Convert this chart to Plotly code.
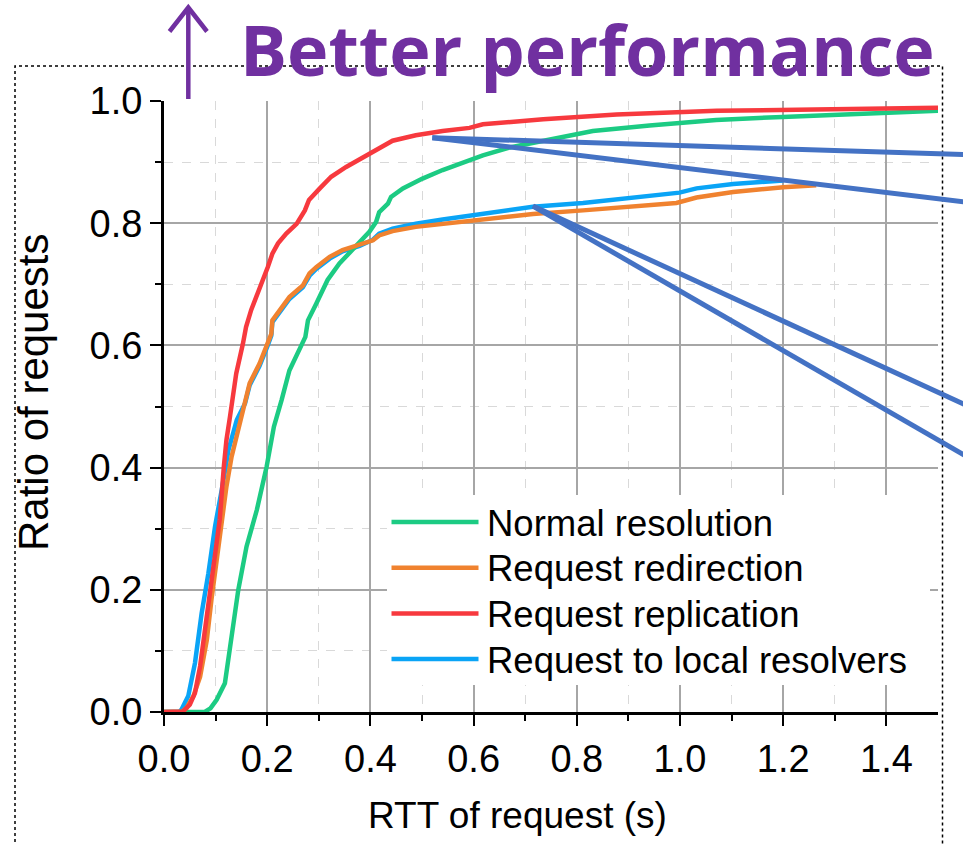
import plotly.graph_objects as go

# ---------------- data ----------------
series_names = ["Normal resolution", "Request redirection",
                "Request replication", "Request to local resolvers"]

normal_x = [0, 0.079, 0.09, 0.102, 0.118, 0.128, 0.144, 0.16, 0.18, 0.199, 0.209,
            0.213, 0.228, 0.243, 0.274, 0.279, 0.295, 0.308, 0.317, 0.34, 0.366,
            0.398, 0.411, 0.417, 0.434, 0.44, 0.463, 0.501, 0.54, 0.592, 0.618,
            0.670, 0.747, 0.831, 0.941, 1.07, 1.199, 1.329, 1.5]
normal_y = [0, 0, 0.006, 0.02, 0.047, 0.102, 0.2, 0.271, 0.331, 0.402, 0.456,
            0.467, 0.511, 0.559, 0.614, 0.641, 0.668, 0.690, 0.707, 0.734, 0.758,
            0.786, 0.802, 0.818, 0.832, 0.843, 0.857, 0.873, 0.887, 0.903, 0.911,
            0.924, 0.937, 0.951, 0.960, 0.969, 0.974, 0.978, 0.984]

redirect_x = [0, 0.035, 0.044, 0.057, 0.07, 0.083, 0.092, 0.102, 0.112, 0.121,
              0.131, 0.144, 0.157, 0.166, 0.185, 0.201, 0.208, 0.21, 0.224, 0.243,
              0.269, 0.275, 0.282, 0.295, 0.321, 0.346, 0.379, 0.405, 0.417, 0.443,
              0.488, 0.54, 0.592, 0.618, 0.715, 0.812, 0.909, 0.993, 1.032, 1.103,
              1.2, 1.264]
redirect_y = [0, 0, 0.007, 0.026, 0.058, 0.118, 0.184, 0.249, 0.304, 0.369,
              0.418, 0.462, 0.5, 0.538, 0.570, 0.603, 0.619, 0.641, 0.658, 0.679,
              0.698, 0.707, 0.718, 0.728, 0.745, 0.756, 0.764, 0.772, 0.78, 0.787,
              0.794, 0.799, 0.804, 0.806, 0.815, 0.821, 0.827, 0.833, 0.842, 0.851,
              0.859, 0.862]

replica_x = [0, 0.037, 0.05, 0.06, 0.07, 0.083, 0.096, 0.108, 0.116, 0.121, 0.128,
             0.133, 0.14, 0.153, 0.159, 0.169, 0.179, 0.192, 0.201, 0.21, 0.221,
             0.237, 0.257, 0.273, 0.281, 0.302, 0.324, 0.353, 0.385, 0.417, 0.443,
             0.488, 0.54, 0.592, 0.618, 0.735, 0.877, 1.071, 1.264, 1.5]
replica_y = [0, 0.001, 0.012, 0.031, 0.075, 0.156, 0.233, 0.315, 0.402, 0.445, 0.484,
             0.511, 0.554, 0.603, 0.630, 0.658, 0.679, 0.707, 0.728, 0.75, 0.767,
             0.783, 0.799, 0.821, 0.838, 0.857, 0.876, 0.892, 0.908, 0.922, 0.935,
             0.944, 0.951, 0.956, 0.962, 0.970, 0.978, 0.984, 0.987, 0.989]

local_x = [0, 0.03, 0.034, 0.047, 0.06, 0.073, 0.086, 0.099, 0.112, 0.125, 0.141,
           0.157, 0.166, 0.185, 0.201, 0.208, 0.21, 0.224, 0.243, 0.269, 0.282,
           0.295, 0.321, 0.346, 0.379, 0.405, 0.417, 0.443, 0.488, 0.54, 0.592,
           0.618, 0.715, 0.812, 0.909, 0.999, 1.032, 1.103, 1.2]
local_y = [0, 0, 0.004, 0.026, 0.08, 0.162, 0.227, 0.304, 0.364, 0.429, 0.478,
           0.505, 0.535, 0.566, 0.600, 0.616, 0.638, 0.655, 0.676, 0.695, 0.714,
           0.725, 0.742, 0.754, 0.763, 0.773, 0.783, 0.791, 0.799, 0.806, 0.812,
           0.816, 0.827, 0.833, 0.841, 0.850, 0.857, 0.864, 0.870]

series_colors = ["#1ccb83", "#f0822f", "#f7393e", "#0aa4f6"]

# tick positions
x_major = [0.0, 0.2, 0.4, 0.6, 0.8, 1.0, 1.2, 1.4]
x_minor = [0.1, 0.3, 0.5, 0.7, 0.9, 1.1, 1.3]
y_major = [0.0, 0.2, 0.4, 0.6, 0.8, 1.0]
y_major_grid = [0.2, 0.4, 0.6, 0.8]
y_minor = [0.1, 0.3, 0.5, 0.7, 0.9]

# callout lines (data units; they run off the right side of the plot)
callout_start = [(0.52, 0.940), (0.52, 0.940), (0.715, 0.828), (0.715, 0.828)]
callout_end = [(1.56, 0.912), (1.56, 0.834), (1.56, 0.5), (1.56, 0.416)]

x_title = "RTT of request (s)"
y_title = "Ratio of requests"
banner = "Better performance"

# ---------------- layout geometry ----------------
W, H = 963, 844
ML, MR, MT, MB = 164, 25, 101, 132
X_RANGE = [0, 1.5]
Y_RANGE = [0, 1.0]
PW, PH = W - ML - MR, H - MT - MB


def pxx(x):
    return (x - ML) / PW


def pxy(y):
    return (H - MB - y) / PH


def dx(x):
    return (x - X_RANGE[0]) / (X_RANGE[1] - X_RANGE[0])


def dy(y):
    return (y - Y_RANGE[0]) / (Y_RANGE[1] - Y_RANGE[0])


FONT = "Liberation Sans, Arial, sans-serif"
PURPLE = "#7030a0"
CALLOUT = "#4472c4"
GRID_MAJOR = "#a6a6a6"
GRID_MINOR = "#d9d9d9"

fig = go.Figure()
draw_order = [3, 0, 1, 2]
data = [(normal_x, normal_y), (redirect_x, redirect_y),
        (replica_x, replica_y), (local_x, local_y)]
for i in draw_order:
    xs, ys = data[i]
    fig.add_trace(go.Scatter(x=xs, y=ys, mode="lines", name=series_names[i],
                             line=dict(color=series_colors[i], width=4.5),
                             yaxis="y2" if i == 2 else "y",
                             showlegend=False, hoverinfo="skip"))

tickfont = dict(family=FONT, size=38, color="black")
common = dict(showline=True, linecolor="black", linewidth=3, mirror=False,
              ticks="outside", ticklen=11, tickwidth=2, tickcolor="black",
              zeroline=False, tickfont=tickfont, tickformat=".1f",
              tickmode="array")

fig.update_layout(
    width=W, height=H,
    margin=dict(l=ML, r=MR, t=MT, b=MB, pad=0),
    paper_bgcolor="white", plot_bgcolor="white",
    xaxis=dict(range=X_RANGE, tickvals=x_major, showgrid=True,
               gridcolor=GRID_MAJOR, gridwidth=1.5,
               minor=dict(tickmode="array", tickvals=x_minor, ticks="outside",
                          ticklen=6, tickwidth=2, tickcolor="black",
                          showgrid=True, gridcolor=GRID_MINOR,
                          griddash="dash", gridwidth=1),
               **common),
    yaxis=dict(range=Y_RANGE, tickvals=y_major, showgrid=False,
               minor=dict(tickmode="array", tickvals=y_minor, ticks="outside",
                          ticklen=6, tickwidth=2, tickcolor="black",
                          showgrid=True, gridcolor=GRID_MINOR,
                          griddash="dash", gridwidth=1),
               **common),
    yaxis2=dict(range=Y_RANGE, overlaying="y", side="left", anchor="x",
                tickmode="array", tickvals=y_major_grid, showgrid=True,
                gridcolor=GRID_MAJOR, gridwidth=1.5, showticklabels=False,
                ticks="", showline=False, zeroline=False),
    showlegend=False,
)

shapes = []
# dotted frame
shapes.append(dict(type="rect", xref="paper", yref="paper",
                   x0=pxx(15), x1=pxx(942.5), y0=pxy(870), y1=pxy(66),
                   line=dict(color="black", width=1.5, dash="dot"),
                   layer="above"))
# legend box (white, hides the grid)
shapes.append(dict(type="rect", xref="paper", yref="paper",
                   x0=pxx(387), x1=pxx(930), y0=pxy(685), y1=pxy(495),
                   line=dict(width=0), fillcolor="white", layer="above"))
# callout lines
for (sx, sy), (ex, ey) in zip(callout_start, callout_end):
    shapes.append(dict(type="line", xref="paper", yref="paper",
                       x0=dx(sx), y0=dy(sy), x1=dx(ex), y1=dy(ey),
                       line=dict(color=CALLOUT, width=5), layer="above"))
# up arrow
shapes.append(dict(type="line", xref="paper", yref="paper",
                   x0=pxx(188.3), x1=pxx(188.3), y0=pxy(99), y1=pxy(9),
                   line=dict(color=PURPLE, width=4.5), layer="above"))
shapes.append(dict(type="path", xref="paper", yref="paper",
                   path="M {a},{b} L {c},{d} L {e},{f}".format(
                       a=pxx(169.5), b=pxy(31.5), c=pxx(188.3), d=pxy(7.5),
                       e=pxx(207), f=pxy(31.5)),
                   line=dict(color=PURPLE, width=4.5), layer="above"))

annotations = []
legend_rows = [522, 567.7, 613.4, 659.1]
for name, col, ry in zip(series_names, series_colors, legend_rows):
    shapes.append(dict(type="line", xref="paper", yref="paper",
                       x0=pxx(391.5), x1=pxx(478.5), y0=pxy(ry), y1=pxy(ry),
                       line=dict(color=col, width=4.5), layer="above"))
    annotations.append(dict(text=name, xref="paper", yref="paper",
                            x=pxx(485), y=pxy(ry + 1), xanchor="left",
                            yanchor="middle", showarrow=False,
                            font=dict(family=FONT, size=36.5, color="black")))

annotations.append(dict(text=x_title, xref="paper", yref="paper",
                        x=pxx(517.5), y=pxy(815), xanchor="center",
                        yanchor="middle", showarrow=False,
                        font=dict(family=FONT, size=37, color="black")))
annotations.append(dict(text=y_title, xref="paper", yref="paper",
                        x=pxx(33), y=pxy(392), xanchor="center",
                        yanchor="middle", textangle=-90, showarrow=False,
                        font=dict(family=FONT, size=42, color="black")))
annotations.append(dict(text=banner, xref="paper", yref="paper",
                        x=pxx(239), y=pxy(49), xanchor="left",
                        yanchor="middle", showarrow=False, borderpad=0,
                        font=dict(family="Open Sans", size=70, color=PURPLE,
                                  weight=700)))

fig.update_layout(shapes=shapes, annotations=annotations)
fig.write_html("out.html",
               config={"displayModeBar": False},
               post_script="document.body.style.margin='0';"
                           "document.body.style.overflow='hidden';")
